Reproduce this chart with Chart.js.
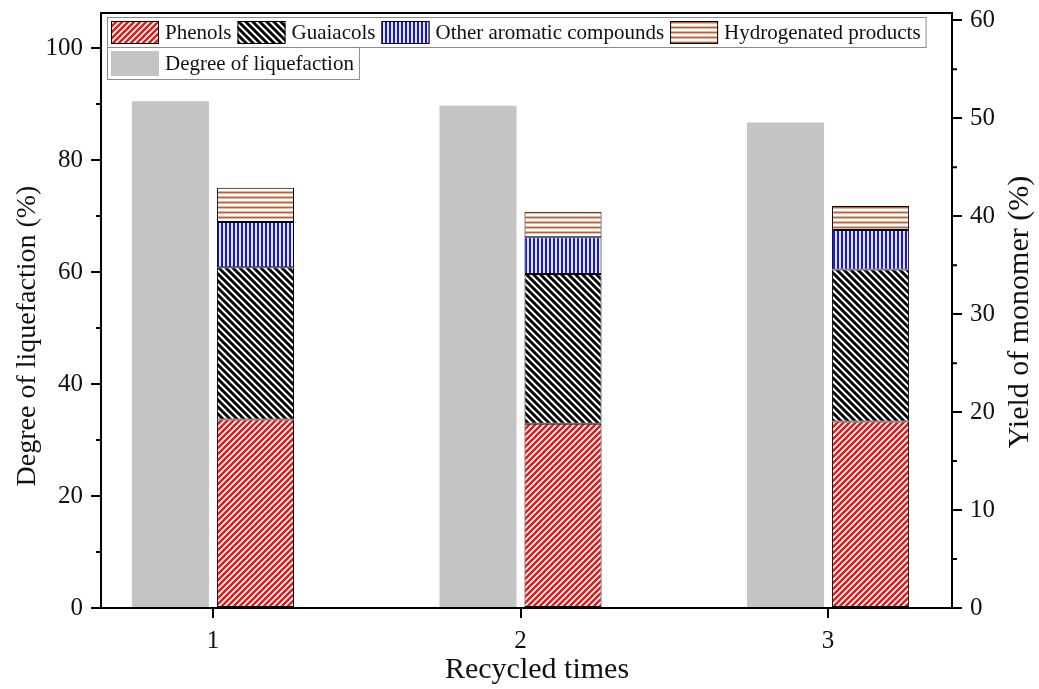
<!DOCTYPE html>
<html>
<head>
<meta charset="utf-8">
<style>
  html, body { margin: 0; padding: 0; background: #fff; }
  #wrap { width: 1039px; height: 689px; }
</style>
</head>
<body>
<div id="wrap"><canvas id="myChart" width="1039" height="689"></canvas></div>
<script src="https://cdn.jsdelivr.net/npm/chart.js"></script>
<script>
    // values
    const recycled = [1, 2, 3];
    const liquefaction = [90.5, 89.7, 86.7];      // left axis (%)
    const phenols = [19.25, 18.8, 19.05];         // right axis (%)
    const guaiacols = [15.55, 15.3, 15.5];
    const otherAromatics = [4.6, 3.75, 4.05];
    const hydrogenated = [3.5, 2.6, 2.45];
    const leftTicks = [0, 20, 40, 60, 80, 100];
    const rightTicks = [0, 10, 20, 30, 40, 50, 60];

    const serif = "'Liberation Serif', 'Times New Roman', serif";
    const canvas = document.getElementById('myChart');
    const ctx = canvas.getContext('2d');

    function stripes(kind, color, size, width) {
        const c = document.createElement('canvas');
        c.width = size; c.height = size;
        const g = c.getContext('2d');
        g.fillStyle = '#fff';
        g.fillRect(0, 0, size, size);
        g.strokeStyle = color;
        g.lineWidth = width;
        g.beginPath();
        if (kind === 'up') {
            for (let k = -1; k <= 1; k++) { g.moveTo(k * size - 1, size + 1); g.lineTo(k * size + size + 1, -1); }
        } else if (kind === 'down') {
            for (let k = -1; k <= 1; k++) { g.moveTo(k * size - 1, -1); g.lineTo(k * size + size + 1, size + 1); }
        } else if (kind === 'vert') {
            g.moveTo(size / 2, 0); g.lineTo(size / 2, size);
        } else {
            g.moveTo(0, size / 2); g.lineTo(size, size / 2);
        }
        g.stroke();
        return ctx.createPattern(c, 'repeat');
    }

    const redHatch = stripes('up', 'rgb(232,22,22)', 6, 2.5);
    const blackHatch = stripes('down', '#000', 7, 2.9);
    const blueHatch = stripes('vert', 'rgb(20,20,235)', 4, 2.2);
    const brownHatch = stripes('horiz', 'rgb(192,96,48)', 5, 1.9);
    const gray = 'rgb(196,196,196)';

    const pts = arr => arr.map((v, i) => ({ x: recycled[i], y: v }));
    const mono = (label, data, fill) => ({
        label: label, data: pts(data), yAxisID: 'y2', stack: 'mono',
        backgroundColor: fill, borderColor: '#000', borderWidth: 1, borderSkipped: false
    });

    const datasets = [
        { label: 'Degree of liquefaction', data: pts(liquefaction), yAxisID: 'y', stack: 'liq',
          backgroundColor: gray, borderWidth: 0 },
        mono('Phenols', phenols, redHatch),
        mono('Guaiacols', guaiacols, blackHatch),
        mono('Other aromatic compounds', otherAromatics, blueHatch),
        mono('Hydrogenated products', hydrogenated, brownHatch)
    ];

    const midpoints = t => t.slice(1).map((v, i) => (v + t[i]) / 2);

    const decor = {
        id: 'decor',
        afterDraw(chart) {
            const { ctx, chartArea: a, scales } = chart;
            ctx.save();
            // frame top + minor ticks
            ctx.strokeStyle = '#000';
            ctx.lineWidth = 2;
            ctx.beginPath();
            ctx.moveTo(a.left - 1, a.top); ctx.lineTo(a.right + 1, a.top);
            midpoints(leftTicks).forEach(v => {
                const p = scales.y.getPixelForValue(v);
                ctx.moveTo(a.left - 5, p); ctx.lineTo(a.left, p);
            });
            midpoints(rightTicks).forEach(v => {
                const p = scales.y2.getPixelForValue(v);
                ctx.moveTo(a.right, p); ctx.lineTo(a.right + 5, p);
            });
            ctx.stroke();

            // axis titles
            ctx.fillStyle = '#111';
            ctx.textAlign = 'center';
            ctx.textBaseline = 'middle';
            [['Degree of liquefaction (%)', 28, 336, 28], ['Yield of monomer (%)', 1020, 312, 30]].forEach(t => {
                ctx.save();
                ctx.font = t[3] + 'px ' + serif;
                ctx.translate(t[1], t[2]);
                ctx.rotate(-Math.PI / 2);
                ctx.fillText(t[0], 0, 0);
                ctx.restore();
            });
            ctx.font = '30px ' + serif;
            ctx.fillText('Recycled times', 537, 670);

            // legend, two boxed rows
            ctx.font = '21px ' + serif;
            ctx.textAlign = 'left';
            const rows = [{ items: [1, 2, 3, 4], top: 17, h: 30 }, { items: [0], top: 47, h: 32 }];
            rows.forEach(r => {
                let x = 111;
                const sy = r.top + 4, sh = r.h - 7;
                const parts = [];
                r.items.forEach(i => {
                    const ds = chart.data.datasets[i];
                    const w = ctx.measureText(ds.label).width;
                    parts.push({ ds: ds, x: x });
                    x += 54 + w + 6;
                });
                const right = x - 6 + 5;
                ctx.fillStyle = '#fff';
                ctx.fillRect(107, r.top, right - 107, r.h);
                ctx.strokeStyle = '#8a8a8a';
                ctx.lineWidth = 1;
                ctx.strokeRect(107.5, r.top + 0.5, right - 107, r.h);
                parts.forEach(p => {
                    ctx.fillStyle = p.ds.backgroundColor;
                    ctx.fillRect(p.x, sy, 48, sh);
                    if (p.ds.borderWidth) {
                        ctx.strokeStyle = '#000';
                        ctx.lineWidth = 1;
                        ctx.strokeRect(p.x + 0.5, sy + 0.5, 47, sh - 1);
                    }
                    ctx.fillStyle = '#111';
                    ctx.fillText(p.ds.label, p.x + 54, sy + sh / 2 + 1);
                });
            });
            ctx.restore();
        }
    };

    const tickFont = { family: serif, size: 25 };
    const axisGrid = { drawOnChartArea: false, tickLength: 10, lineWidth: 2, color: '#000', offset: false };
    const axisBorder = { color: '#000', width: 2 };
    const noPad = s => { s.paddingTop = 0; s.paddingBottom = 0; s.paddingLeft = 0; s.paddingRight = 0; };

    const myChart = new Chart(ctx, {
        type: 'bar',
        data: { datasets: datasets },
        options: {
            responsive: false,
            animation: false,
            categoryPercentage: 0.553,
            barPercentage: 0.906,
            layout: { padding: { top: 13, left: 0, right: 0, bottom: 0 } },
            plugins: { legend: { display: false }, tooltip: { enabled: false } },
            scales: {
                x: {
                    type: 'linear', min: 0.636, max: 3.403, offset: false,
                    afterBuildTicks: s => { s.ticks = recycled.map(v => ({ value: v })); },
                    afterFit: s => { s.height = 81; noPad(s); },
                    grid: axisGrid, border: axisBorder,
                    ticks: { font: tickFont, color: '#111', padding: 8 }
                },
                y: {
                    position: 'left', min: 0, max: 106.25,
                    afterBuildTicks: s => { s.ticks = leftTicks.map(v => ({ value: v })); },
                    afterFit: s => { s.width = 101; noPad(s); },
                    grid: axisGrid, border: axisBorder,
                    ticks: { font: tickFont, color: '#111', padding: 8 }
                },
                y2: {
                    position: 'right', min: 0, max: 60.75, stacked: true,
                    afterBuildTicks: s => { s.ticks = rightTicks.map(v => ({ value: v })); },
                    afterFit: s => { s.width = 87; noPad(s); },
                    grid: axisGrid, border: axisBorder,
                    ticks: { font: tickFont, color: '#111', padding: 8 }
                }
            }
        },
        plugins: [decor]
    });
</script>
</body>
</html>
